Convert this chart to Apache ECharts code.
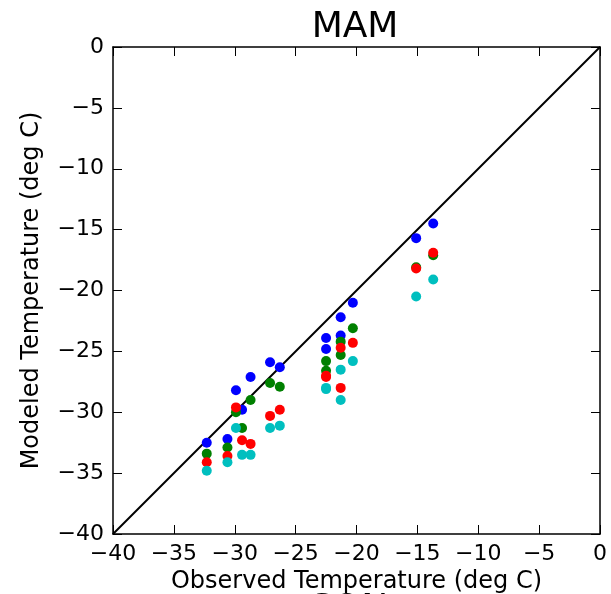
<!DOCTYPE html>
<html>
<head>
<meta charset="utf-8">
<script src="https://cdn.jsdelivr.net/npm/echarts@6/dist/echarts.min.js"></script>
<style>
  html, body { margin: 0; padding: 0; background: #fff; }
  #chart { width: 611px; height: 594px; }
</style>
</head>
<body>
<div id="chart"></div>
<script>
// observed station temperatures (deg C)
const observed = [-32.3, -30.6, -29.9, -29.4, -28.7, -27.1, -26.3, -22.5, -22.5, -21.3, -21.3, -20.3, -15.1, -13.7];

// modeled temperatures, one array per run
const modelBlue = [-32.5, -32.2, -28.2, -29.8, -27.1, -25.9, -26.3, -23.9, -24.8, -22.2, -23.7, -21.0, -15.7, -14.5];
const modelGreen = [-33.4, -32.9, -30.0, -31.3, -29.0, -27.6, -27.9, -25.8, -26.6, -24.2, -25.3, -23.1, -18.1, -17.1];
const modelRed = [-34.1, -33.6, -29.6, -32.3, -32.6, -30.3, -29.8, -27.0, -27.1, -24.7, -28.0, -24.3, -18.2, -16.9];
const modelCyan = [-34.8, -34.1, -31.3, -33.5, -33.5, -31.3, -31.1, -28.0, -28.1, -26.5, -29.0, -25.8, -20.5, -19.1];

const oneToOne = [[-40, -40], [0, 0]];
const tickFont = 'DejaVu Sans';

function pairs(ys) {
  return observed.map((x, i) => [x, ys[i]]);
}

function dots(ys, color) {
  return {
    type: 'scatter',
    data: pairs(ys),
    symbolSize: 10,
    itemStyle: { color: color, opacity: 1 },
    silent: true,
    z: 3
  };
}

const mainAxis = {
  min: -40,
  max: 0,
  interval: 5,
  axisLine: { onZero: false, lineStyle: { color: '#000', width: 1.5 } },
  axisTick: { inside: true, length: 9, lineStyle: { color: '#000', width: 1 } },
  splitLine: { show: false },
  axisLabel: {
    color: '#000',
    fontFamily: tickFont,
    fontSize: 22,
    margin: 9,
    formatter: v => String(v).replace('-', '\u2212')
  }
};

const sideAxis = {
  min: -40,
  max: 0,
  interval: 5,
  axisLine: { onZero: false, lineStyle: { color: '#000', width: 1.5 } },
  axisTick: { inside: true, length: 9, lineStyle: { color: '#000', width: 1 } },
  splitLine: { show: false },
  axisLabel: { show: false }
};

const chart = echarts.init(document.getElementById('chart'));
chart.setOption({
  animation: false,
  backgroundColor: '#fff',
  title: {
    text: 'MAM',
    left: 350,
    top: 5,
    textAlign: 'center',
    textStyle: { fontFamily: tickFont, fontSize: 36, fontWeight: 'normal', color: '#000' }
  },
  grid: { left: 113, top: 47, width: 487, height: 487, outerBoundsMode: 'none', containLabel: false },
  xAxis: [
    Object.assign({}, mainAxis, {
      type: 'value',
      position: 'bottom',
      name: 'Observed Temperature (deg C)',
      nameLocation: 'middle',
      nameGap: 32,
      nameTextStyle: { fontFamily: tickFont, fontSize: 24, color: '#000' }
    }),
    Object.assign({}, sideAxis, { type: 'value', position: 'top' })
  ],
  yAxis: [
    Object.assign({}, mainAxis, {
      type: 'value',
      position: 'left',
      name: 'Modeled Temperature (deg C)',
      nameLocation: 'middle',
      nameGap: 69,
      nameTextStyle: { fontFamily: tickFont, fontSize: 24, color: '#000' }
    }),
    Object.assign({}, sideAxis, { type: 'value', position: 'right' })
  ],
  series: [
    {
      type: 'line',
      data: oneToOne,
      symbol: 'none',
      silent: true,
      lineStyle: { color: '#000', width: 2 },
      z: 2
    },
    dots(modelBlue, '#0000ff'),
    dots(modelGreen, '#008000'),
    dots(modelRed, '#ff0000'),
    dots(modelCyan, '#00bfbf')
  ],
  graphic: [
    {
      type: 'text',
      left: 310,
      top: 592,
      style: { text: 'SON', font: '36px "DejaVu Sans"', fill: '#000' }
    }
  ]
});
</script>
</body>
</html>
